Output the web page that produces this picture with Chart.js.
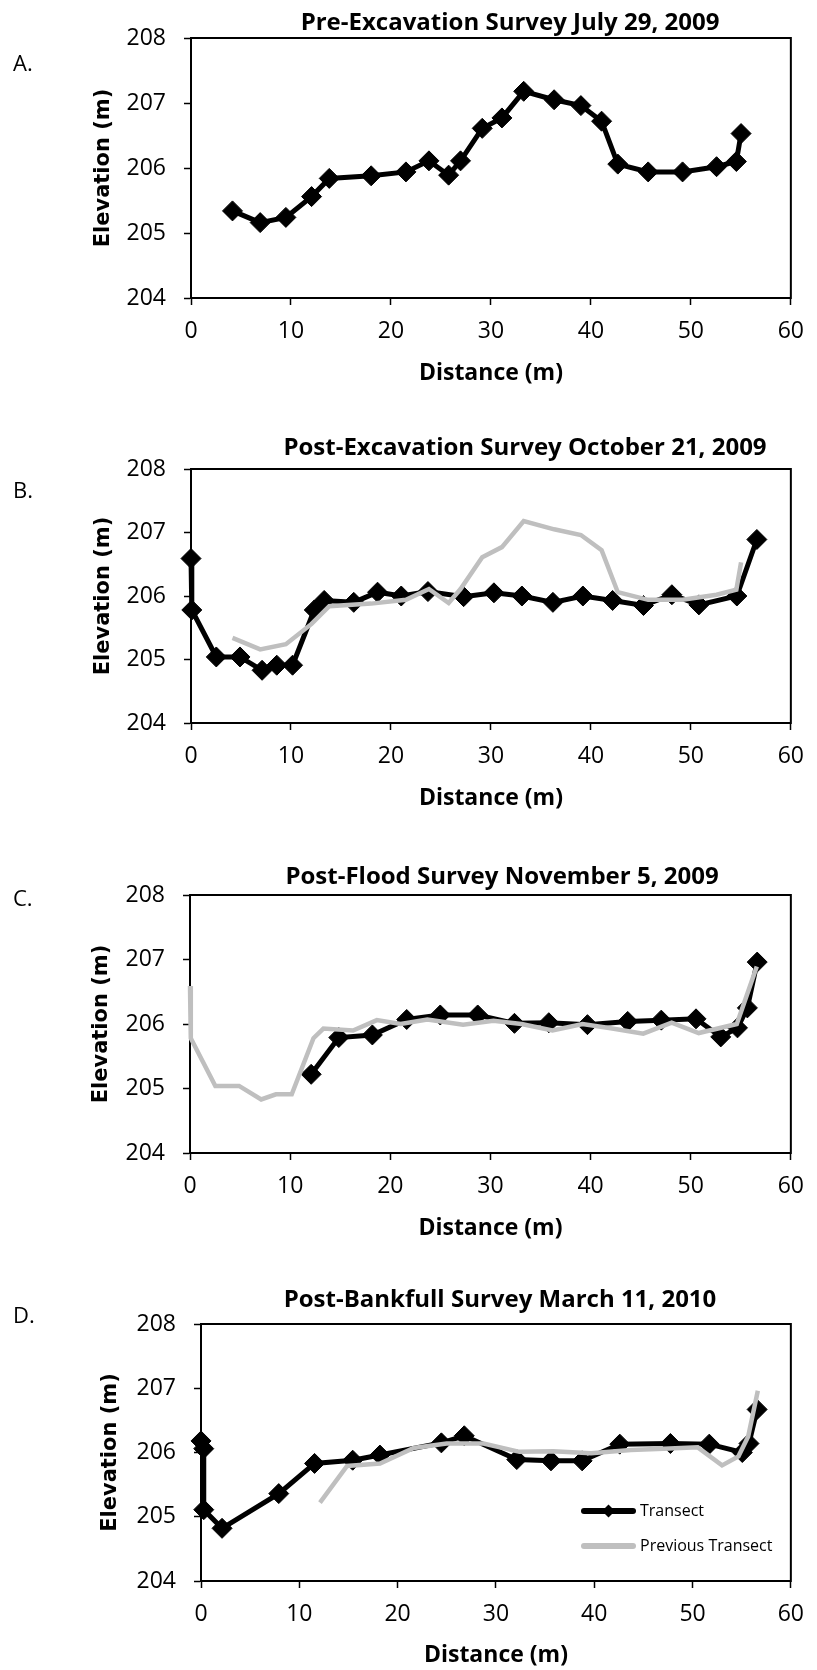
<!DOCTYPE html>
<html>
<head>
<meta charset="utf-8">
<script src="https://cdn.jsdelivr.net/npm/chart.js@4.4.0/dist/chart.umd.min.js"></script>
<style>
  html, body { margin: 0; padding: 0; background: #ffffff; }
  #wrap { position: relative; width: 817px; height: 1670px; overflow: hidden; }
  #wrap canvas { position: absolute; left: 0; }
</style>
</head>
<body>
<div id="wrap">
  <canvas id="cA" width="817" height="420" style="top:0px"></canvas>
  <canvas id="cB" width="817" height="420" style="top:420px"></canvas>
  <canvas id="cC" width="817" height="430" style="top:840px"></canvas>
  <canvas id="cD" width="817" height="400" style="top:1270px"></canvas>
</div>
<script>
// ---------------- DATA ----------------
// A. Pre-Excavation Survey July 29, 2009
const preDist = [4.15, 6.92, 9.49, 12.06, 13.83, 18.02, 21.5, 23.8, 25.77, 26.96, 29.13, 31.1, 33.28, 36.32, 39.0, 41.07, 42.69, 45.73, 49.17, 52.57, 54.55, 55.02];
const preElev = [205.34, 205.16, 205.24, 205.56, 205.84, 205.88, 205.94, 206.11, 205.89, 206.11, 206.61, 206.77, 207.18, 207.05, 206.96, 206.72, 206.06, 205.94, 205.94, 206.02, 206.10, 206.53];

// B. Post-Excavation Survey October 21, 2009
const postExcDist = [0, 0.08, 2.53, 4.9, 7.11, 8.58, 10.16, 12.33, 13.32, 16.28, 18.66, 21.03, 23.7, 27.27, 30.3, 33.1, 36.2, 39.2, 42.17, 45.26, 48.1, 50.8, 54.6, 56.6];
const postExcElev = [206.59, 205.78, 205.04, 205.04, 204.83, 204.91, 204.91, 205.78, 205.93, 205.90, 206.06, 206.00, 206.07, 205.99, 206.05, 206.00, 205.90, 206.00, 205.93, 205.85, 206.02, 205.86, 206.00, 206.89];

// C. Post-Flood Survey November 5, 2009
const postFloodDist = [12.1, 14.86, 18.21, 21.64, 24.99, 28.73, 32.4, 35.83, 39.69, 43.71, 47.06, 50.53, 53.0, 54.67, 55.66, 56.64];
const postFloodElev = [205.22, 205.79, 205.83, 206.07, 206.14, 206.14, 206.01, 206.02, 205.99, 206.04, 206.06, 206.08, 205.80, 205.94, 206.25, 206.96];

// D. Post-Bankfull Survey March 11, 2010
const postBankDist = [0, 0.28, 0.28, 2.14, 7.91, 11.55, 15.43, 18.2, 24.45, 26.78, 32.12, 35.6, 38.77, 42.6, 47.75, 51.7, 55.06, 55.74, 56.57];
const postBankElev = [206.18, 206.06, 205.11, 204.82, 205.36, 205.83, 205.88, 205.96, 206.15, 206.26, 205.89, 205.87, 205.87, 206.13, 206.14, 206.13, 206.00, 206.14, 206.67];

const xTickValues = [0, 10, 20, 30, 40, 50, 60];
const yTickValues = [204, 205, 206, 207, 208];
const panelTitles = ['Pre-Excavation Survey July 29, 2009', 'Post-Excavation Survey October 21, 2009', 'Post-Flood Survey November 5, 2009', 'Post-Bankfull Survey March 11, 2010'];
const panelLetters = ['A.', 'B.', 'C.', 'D.'];
const seriesNames = ['Transect', 'Previous Transect'];
const xAxisName = 'Distance (m)';
const yAxisName = 'Elevation (m)';

// ---------------- LAYOUT (canvas-relative) ----------------
const layouts = [
  { id: 'cA', h: 420, plotTop: 38, plotBottom: 298, plotLeft: 191, xlabelY: 373, ylabelX: 104, titleX: 510, titleY: 23, letterY: 65 },
  { id: 'cB', h: 420, plotTop: 49, plotBottom: 303, plotLeft: 191, xlabelY: 378, ylabelX: 104, titleX: 525, titleY: 28, letterY: 72 },
  { id: 'cC', h: 430, plotTop: 55, plotBottom: 313, plotLeft: 190, xlabelY: 388, ylabelX: 102, titleX: 502, titleY: 37, letterY: 60 },
  { id: 'cD', h: 400, plotTop: 54, plotBottom: 311, plotLeft: 201, xlabelY: 385, ylabelX: 111, titleX: 500, titleY: 30, letterY: 47,
    legend: { x1: 581, x2: 636, textX: 640, y: [241, 276] } }
];
const PLOT_RIGHT = 805;

const BLACK = '#000000';
const GREY = '#BFBFBF';
const TICK_FONT = { family: "'Open Sans', sans-serif", size: 23 };
const TITLE_FONT = "bold 24px 'Open Sans', sans-serif";
const LETTER_FONT = "22px 'Open Sans', sans-serif";
const LEGEND_FONT = "16px 'Open Sans', sans-serif";

function toPoints(xs, ys) { return xs.map((x, i) => ({ x: x, y: ys[i] })); }

const decor = {
  id: 'decor',
  beforeDatasetsDraw(chart, args, opts) {
    const { ctx, chartArea: a } = chart;
    ctx.save();
    ctx.strokeStyle = BLACK;
    ctx.lineWidth = 2;
    ctx.strokeRect(a.left, a.top, a.right - a.left, a.bottom - a.top);
    ctx.restore();
  },
  afterDraw(chart, args, opts) {
    const ctx = chart.ctx;
    ctx.save();
    ctx.fillStyle = BLACK;
    ctx.textBaseline = 'middle';
    ctx.font = TITLE_FONT;
    ctx.textAlign = 'center';
    ctx.fillText(opts.title, opts.titleX, opts.titleY);
    ctx.font = LETTER_FONT;
    ctx.textAlign = 'left';
    ctx.fillText(opts.letter, 13, opts.letterY);
    if (opts.legend) {
      const L = opts.legend;
      chart.data.datasets.forEach((ds, i) => {
        const y = L.y[i];
        ctx.strokeStyle = ds.borderColor;
        ctx.lineWidth = 6;
        ctx.lineCap = 'round';
        ctx.beginPath();
        ctx.moveTo(L.x1 + 3, y);
        ctx.lineTo(L.x2 - 3, y);
        ctx.stroke();
        if (ds.pointRadius > 0) {
          const cx = (L.x1 + L.x2) / 2, r = 6.5;
          ctx.fillStyle = ds.pointBackgroundColor;
          ctx.beginPath();
          ctx.moveTo(cx, y - r); ctx.lineTo(cx + r, y); ctx.lineTo(cx, y + r); ctx.lineTo(cx - r, y);
          ctx.closePath();
          ctx.fill();
        }
        ctx.fillStyle = BLACK;
        ctx.font = LEGEND_FONT;
        ctx.textAlign = 'left';
        ctx.fillText(ds.label, L.textX, y);
      });
    }
    ctx.restore();
  }
};

function makePanel(idx, current, previous) {
  const L = layouts[idx];
  const datasets = [{
    label: seriesNames[0],
    data: toPoints(current[0], current[1]),
    showLine: true,
    borderColor: BLACK,
    backgroundColor: BLACK,
    pointBackgroundColor: BLACK,
    pointBorderColor: BLACK,
    borderWidth: 5,
    pointStyle: 'rectRot',
    pointRadius: 10,
    pointBorderWidth: 1,
    tension: 0,
    clip: false,
    order: 1
  }];
  if (previous) {
    datasets.push({
      label: seriesNames[1],
      data: toPoints(previous[0], previous[1]),
      showLine: true,
      borderColor: GREY,
      backgroundColor: GREY,
      pointBackgroundColor: GREY,
      borderWidth: 4.5,
      pointRadius: 0,
      pointHoverRadius: 0,
      tension: 0,
      clip: false,
      order: 0
    });
  }
  const xScaleHeight = L.h - L.plotBottom;
  const xTitleLH = 23 * 1.2;
  const yTitleLH = 21 * 1.2;
  return new Chart(document.getElementById(L.id), {
    type: 'scatter',
    data: { datasets },
    options: {
      responsive: false,
      animation: false,
      devicePixelRatio: 1,
      events: [],
      layout: { padding: { top: L.plotTop, right: 817 - PLOT_RIGHT, bottom: 0, left: 0 } },
      plugins: {
        legend: { display: false },
        title: { display: false },
        tooltip: { enabled: false },
        decor: {
          title: panelTitles[idx], titleX: L.titleX, titleY: L.titleY,
          letter: panelLetters[idx], letterY: L.letterY,
          legend: L.legend || null
        }
      },
      scales: {
        x: {
          type: 'linear',
          min: xTickValues[0],
          max: xTickValues[xTickValues.length - 1],
          afterBuildTicks: (s) => { s.ticks = xTickValues.map(v => ({ value: v })); },
          afterFit: (s) => { s.height = xScaleHeight; },
          ticks: { font: TICK_FONT, color: BLACK, padding: 13, maxRotation: 0, autoSkip: false },
          grid: { display: true, drawOnChartArea: false, drawTicks: true, tickLength: 7, tickWidth: 1.5, tickColor: BLACK },
          border: { display: true, color: BLACK, width: 2 },
          title: {
            display: true, text: xAxisName, color: BLACK,
            font: { family: "'Open Sans', sans-serif", size: 23, weight: 'bold', lineHeight: 1.2 },
            padding: { top: 0, bottom: L.h - L.xlabelY - xTitleLH / 2 }
          }
        },
        y: {
          type: 'linear',
          min: yTickValues[0],
          max: yTickValues[yTickValues.length - 1],
          afterBuildTicks: (s) => { s.ticks = yTickValues.map(v => ({ value: v })); },
          afterFit: (s) => { s.width = L.plotLeft; },
          ticks: { font: TICK_FONT, color: BLACK, padding: 18 },
          grid: { display: true, drawOnChartArea: false, drawTicks: true, tickLength: 7, tickWidth: 1.5, tickColor: BLACK },
          border: { display: true, color: BLACK, width: 2 },
          title: {
            display: true, text: yAxisName, color: BLACK,
            font: { family: "'DejaVu Sans', sans-serif", size: 21, weight: 'bold', lineHeight: 1.2 },
            padding: { top: L.ylabelX - yTitleLH / 2, bottom: 0 }
          }
        }
      }
    },
    plugins: [decor]
  });
}

makePanel(0, [preDist, preElev], null);
makePanel(1, [postExcDist, postExcElev], [preDist, preElev]);
makePanel(2, [postFloodDist, postFloodElev], [postExcDist, postExcElev]);
makePanel(3, [postBankDist, postBankElev], [postFloodDist, postFloodElev]);
</script>
</body>
</html>
